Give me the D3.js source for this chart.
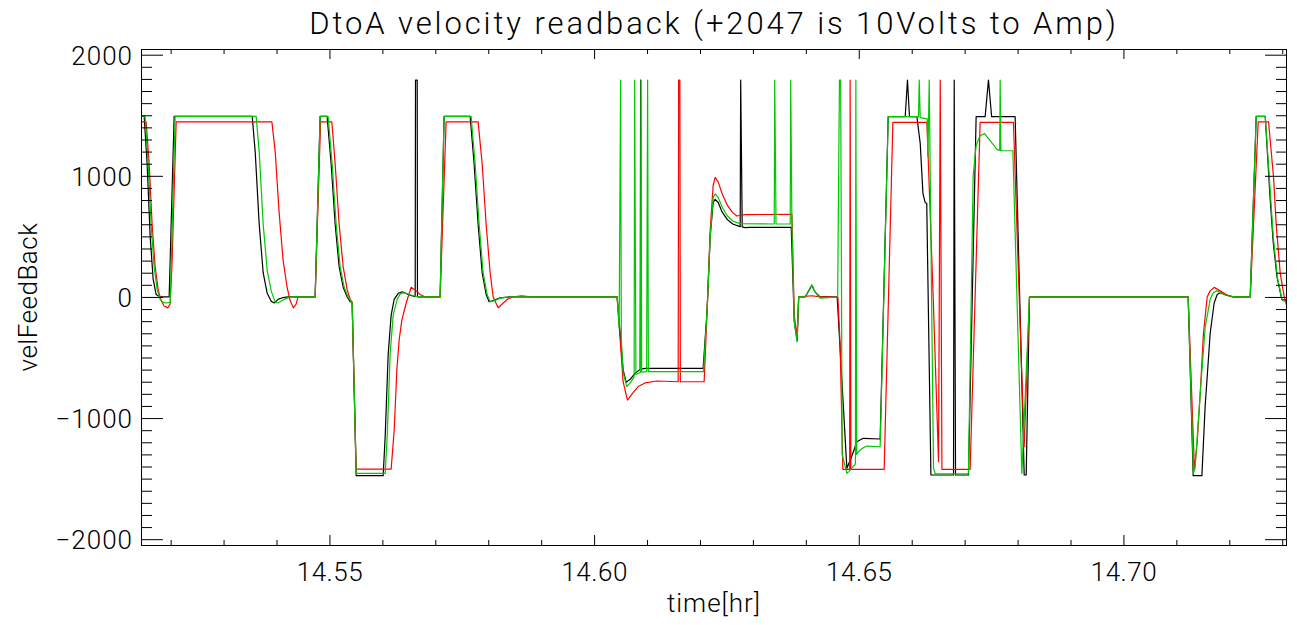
<!DOCTYPE html>
<html>
<head>
<meta charset="utf-8">
<script src="https://cdn.jsdelivr.net/npm/d3@7"></script>
<style>
  html, body { margin: 0; padding: 0; background: #fff; }
  svg { display: block; }
  text { font-family: "Roboto", "DejaVu Sans", sans-serif; font-weight: 300; fill: #000; }
</style>
</head>
<body>
<svg id="chart" width="1297" height="625"></svg>
<script>
// ---------------- data ----------------
const titleText = "DtoA velocity readback (+2047 is 10Volts to Amp)";
const xLabel = "time[hr]";
const yLabel = "velFeedBack";
const xDomain = [14.5144, 14.7309];
const yDomain = [-2048, 2047];
const xMajorTicks = [14.55, 14.60, 14.65, 14.70];
const xMinorTicks = [14.52, 14.53, 14.54, 14.56, 14.57, 14.58, 14.59, 14.61, 14.62, 14.63, 14.64, 14.66, 14.67, 14.68, 14.69, 14.71, 14.72, 14.73];
const yMajorTicks = [-2000, -1000, 0, 1000, 2000];
const yMinorTicks = d3.range(-2000, 2001, 100).filter(v => v % 1000 !== 0);

// [time (hr), velFeedBack]
const blackSeries = [
[14.5144,1490],[14.5150,1490],[14.51556,1100],[14.51613,500],[14.51669,150],[14.51726,20],[14.51802,0],[14.51972,0],[14.52066,1490],
[14.53541,1490],[14.53597,1200],[14.53673,600],[14.53748,200],[14.53824,30],[14.539,-35],[14.53956,-50],[14.5403,-20],[14.54125,-5],[14.54219,0],
[14.5473,0],[14.54824,1490],[14.54956,1490],[14.55032,1100],[14.55108,600],[14.55183,250],[14.55259,80],[14.55335,0],[14.55391,-40],[14.55429,-45],
[14.55505,-1476],[14.56015,-1476],[14.56053,-1150],[14.5611,-470],[14.56166,-150],[14.56223,-20],[14.56299,30],[14.56374,43],[14.56488,20],[14.56601,5],
[14.5662,3],[14.56626,1790],[14.56658,1790],[14.56663,0],[14.56714,0],
[14.57091,0],[14.57166,1490],[14.57658,1490],[14.57733,1100],[14.57809,600],[14.57885,200],[14.5796,20],[14.58017,-40],[14.58093,-30],[14.58225,-8],[14.58414,0],
[14.60435,0],[14.60492,-300],[14.60548,-600],[14.60605,-705],[14.60681,-680],[14.60775,-630],[14.6087,-598],[14.60879,1790],[14.60889,-596],[14.60964,-590],[14.6206,-590],
[14.62136,-100],[14.62193,500],[14.62249,780],[14.62287,806],[14.62344,780],[14.6242,700],[14.62514,640],[14.62627,600],[14.6276,580],[14.62769,1790],[14.62798,578],[14.62854,572],[14.62949,575],[14.63724,575],
[14.63781,-200],[14.63837,-360],[14.63865,0],[14.63987,0],[14.64113,95],[14.64176,40],[14.6427,0],[14.64592,0],
[14.64775,-1415],[14.64856,-1330],[14.64964,-1195],[14.65083,-1167],[14.65404,-1173],[14.65556,1488],[14.65877,1488],[14.6592,1790],[14.65958,1488],[14.66098,1488],
[14.66161,1268],[14.66212,855],[14.66255,778],[14.66284,773],[14.66363,-1470],[14.6679,-1470],[14.66803,1790],[14.66828,-1470],[14.67072,-1470],
[14.67217,1488],[14.67387,1488],[14.6745,1790],[14.6751,1488],[14.67954,1488],[14.68125,-1470],[14.68163,-1470],[14.68225,0],
[14.71223,0],[14.71318,-1476],[14.71482,-1476],[14.71544,-900],[14.71639,-300],[14.71714,-50],[14.71771,20],[14.71828,35],[14.71941,15],[14.72074,0],
[14.72395,0],[14.72508,1490],[14.72679,1490],[14.72773,800],[14.7283,450],[14.729,167],[14.72994,-25],[14.7309,-25]
];

const greenSeries = [
[14.5144,1490],[14.51518,1490],[14.51575,1100],[14.51631,600],[14.51688,250],[14.51745,60],[14.51802,-20],[14.51858,-45],[14.51915,-50],[14.51991,-45],[14.52085,1490],
[14.53616,1490],[14.53673,1200],[14.53748,600],[14.53824,220],[14.539,50],[14.53975,-45],[14.5403,-50],[14.54106,-30],[14.542,-10],[14.54295,0],
[14.5473,0],[14.54824,1490],[14.54975,1490],[14.55051,1100],[14.55127,600],[14.55202,250],[14.55278,80],[14.55353,0],[14.5541,-40],[14.55429,-45],
[14.55505,-1457],[14.56053,-1457],[14.56091,-1150],[14.56147,-470],[14.56204,-150],[14.5628,-20],[14.56336,25],[14.56412,35],[14.56525,18],[14.56639,5],[14.56752,0],
[14.57091,0],[14.57166,1490],[14.57677,1490],[14.57752,1100],[14.57828,600],[14.57903,200],[14.57979,20],[14.58036,-40],[14.58112,-30],[14.58244,-8],[14.58433,0],
[14.60435,0],[14.60473,-250],[14.60501,1790],[14.60514,-350],[14.60548,-620],[14.60618,-741],[14.60681,-710],[14.60756,-660],[14.60766,1790],[14.6079,-640],
[14.60875,-622],[14.60885,1790],[14.60898,-620],[14.60992,-617],[14.61011,1790],[14.61025,-617],[14.62066,-617],
[14.62136,-100],[14.62193,500],[14.62249,820],[14.62287,850],[14.62344,820],[14.6242,740],[14.62514,670],[14.62627,625],[14.6276,605],
[14.63403,602],[14.63412,1790],[14.63437,602],[14.63705,602],[14.63714,1790],[14.63737,602],[14.63781,-200],[14.63832,-370],[14.63865,0],[14.63987,0],
[14.64113,100],[14.64176,40],[14.6427,-10],[14.64421,-5],[14.64592,0],
[14.64601,0],[14.64635,1790],[14.64658,1790],[14.64686,-1300],[14.64775,-1457],[14.64818,-1440],[14.64894,-1400],[14.64937,-1380],[14.64945,1790],[14.6496,-1300],
[14.64994,-1278],[14.65064,-1250],[14.65153,-1231],[14.65404,-1237],[14.65556,1488],[14.66129,1488],[14.66142,1790],[14.66161,1480],[14.66293,1470],
[14.66306,1157],[14.66331,1790],[14.6635,1000],[14.66412,-1413],[14.66444,-1460],[14.67072,-1460],
[14.67161,1000],[14.67217,1250],[14.67293,1330],[14.67374,1350],[14.67482,1290],[14.67609,1218],[14.67662,1210],[14.67671,1790],[14.67684,1208],[14.67911,1207],
[14.68081,-1457],[14.68225,0],
[14.71223,0],[14.71323,-1457],[14.71355,-1400],[14.7145,-800],[14.71544,-250],[14.71639,-20],[14.71696,35],[14.71765,50],[14.71866,30],[14.71979,10],[14.72112,0],
[14.72395,0],[14.72508,1490],[14.72679,1490],[14.72754,1000],[14.7283,500],[14.72905,170],[14.72994,-20],[14.7309,-53]
];

const redSeries = [
[14.5144,1445],[14.51537,1445],[14.51594,1100],[14.5165,600],[14.51707,250],[14.51764,60],[14.5182,-30],[14.51877,-75],[14.51947,-90],[14.51991,-60],[14.52028,300],[14.52104,1445],
[14.53913,1445],[14.53975,1200],[14.54049,700],[14.54125,300],[14.542,80],[14.54257,-30],[14.54319,-90],[14.5437,-60],[14.54408,0],
[14.5473,0],[14.54833,1445],[14.55045,1445],[14.55108,1100],[14.55183,600],[14.55259,250],[14.55335,60],[14.55391,-20],[14.55429,-45],
[14.55505,-1421],[14.56166,-1421],[14.56223,-1100],[14.56274,-600],[14.56318,-350],[14.56369,-190],[14.5645,-50],[14.56544,80],[14.56639,50],[14.56714,20],[14.56809,0],
[14.57091,0],[14.57204,1445],[14.57809,1445],[14.57885,1100],[14.5796,600],[14.58036,200],[14.58093,0],[14.58187,-89],[14.58282,-50],[14.58376,-15],[14.58471,0],[14.58635,10],[14.58792,0],
[14.60435,0],[14.60492,-350],[14.60548,-700],[14.6063,-851],[14.60718,-800],[14.60832,-740],[14.60964,-710],[14.61185,-694],[14.61588,-700],[14.61597,1790],[14.6162,1790],[14.61629,-700],[14.62079,-700],
[14.62136,-100],[14.62193,550],[14.62249,920],[14.62287,987],[14.62344,950],[14.6242,850],[14.62514,760],[14.62609,700],[14.62697,668],[14.62854,680],[14.63737,682],
[14.63781,-150],[14.63832,-330],[14.63865,0],[14.64113,10],[14.6427,0],[14.64605,0],
[14.64648,-400],[14.64699,-1423],[14.64828,-1423],[14.64837,1790],[14.64851,-1423],[14.6548,-1423],[14.65644,1442],[14.66287,1442],[14.66406,0],[14.66507,-1360],
[14.66539,1790],[14.66571,-1423],[14.67104,-1423],[14.67293,1442],[14.67922,1442],[14.68125,-1237],[14.68225,0],
[14.71223,0],[14.71342,-1430],[14.71393,-1200],[14.7145,-800],[14.71512,-300],[14.71582,0],[14.71639,50],[14.71714,79],[14.71828,50],[14.71941,20],[14.72055,0],
[14.72395,0],[14.72546,1445],[14.72741,1445],[14.72835,992],[14.72886,600],[14.72962,195],[14.73038,0],[14.7309,-80]
];

const seriesList = [
  { name: "black", color: "#000000", data: blackSeries },
  { name: "red",   color: "#ff0000", data: redSeries },
  { name: "green", color: "#00c800", data: greenSeries }
];

// ---------------- layout ----------------
const W = 1297, H = 625;
const plot = { left: 141, right: 1287, top: 49, bottom: 545 };

const svg = d3.select("#chart");
const x = d3.scaleLinear().domain(xDomain).range([plot.left, plot.right]);
const y = d3.scaleLinear().domain(yDomain).range([plot.bottom, plot.top]);

svg.append("rect").attr("width", W).attr("height", H).attr("fill", "#fff");

svg.append("defs").append("clipPath").attr("id", "clip")
  .append("rect").attr("x", plot.left).attr("y", plot.top)
  .attr("width", plot.right - plot.left).attr("height", plot.bottom - plot.top);

const line = d3.line().x(d => x(d[0])).y(d => y(d[1]));
const gLines = svg.append("g").attr("clip-path", "url(#clip)");
seriesList.forEach(s => {
  gLines.append("path")
    .datum(s.data)
    .attr("d", line)
    .attr("fill", "none")
    .attr("stroke", s.color)
    .attr("stroke-width", 1.2)
    .attr("stroke-linejoin", "round");
});

function styleAxis(g) {
  g.select(".domain").remove();
  g.selectAll(".tick line").attr("stroke", "#000").attr("stroke-width", 1);
  g.selectAll("text").attr("font-family", "Roboto, DejaVu Sans, sans-serif").attr("font-weight", 300).attr("fill", "#000");
}

svg.append("g").attr("transform", `translate(0,${plot.bottom})`)
  .call(d3.axisBottom(x).tickValues(xMajorTicks).tickSizeInner(-10).tickSizeOuter(0).tickPadding(18).tickFormat(d3.format(".2f")))
  .call(styleAxis)
  .call(g => g.selectAll("text").attr("font-size", 26).attr("letter-spacing", "0.5px"));
svg.append("g").attr("transform", `translate(0,${plot.bottom})`)
  .call(d3.axisBottom(x).tickValues(xMinorTicks).tickSizeInner(-5).tickSizeOuter(0).tickFormat(""))
  .call(styleAxis);
svg.append("g").attr("transform", `translate(0,${plot.top})`)
  .call(d3.axisTop(x).tickValues(xMajorTicks).tickSizeInner(-10).tickSizeOuter(0).tickFormat(""))
  .call(styleAxis);
svg.append("g").attr("transform", `translate(0,${plot.top})`)
  .call(d3.axisTop(x).tickValues(xMinorTicks).tickSizeInner(-5).tickSizeOuter(0).tickFormat(""))
  .call(styleAxis);
svg.append("g").attr("transform", `translate(${plot.left},0)`)
  .call(d3.axisLeft(y).tickValues(yMajorTicks).tickSizeInner(-22).tickSizeOuter(0).tickPadding(8).tickFormat(d3.format("d")))
  .call(styleAxis)
  .call(g => g.selectAll("text").attr("font-size", 26).attr("letter-spacing", "1px").attr("dy", "0.36em"));
svg.append("g").attr("transform", `translate(${plot.left},0)`)
  .call(d3.axisLeft(y).tickValues(yMinorTicks).tickSizeInner(-11).tickSizeOuter(0).tickFormat(""))
  .call(styleAxis);
svg.append("g").attr("transform", `translate(${plot.right},0)`)
  .call(d3.axisRight(y).tickValues(yMajorTicks).tickSizeInner(-22).tickSizeOuter(0).tickFormat(""))
  .call(styleAxis);
svg.append("g").attr("transform", `translate(${plot.right},0)`)
  .call(d3.axisRight(y).tickValues(yMinorTicks).tickSizeInner(-11).tickSizeOuter(0).tickFormat(""))
  .call(styleAxis);

svg.append("rect")
  .attr("x", plot.left + 0.5).attr("y", plot.top + 0.5)
  .attr("width", plot.right - plot.left - 1).attr("height", plot.bottom - plot.top)
  .attr("fill", "none").attr("stroke", "#000").attr("stroke-width", 1);

svg.append("text")
  .attr("x", (plot.left + plot.right) / 2).attr("y", 34)
  .attr("text-anchor", "middle").attr("font-size", 31).attr("letter-spacing", "2.9px")
  .text(titleText);
svg.append("text")
  .attr("x", (plot.left + plot.right) / 2).attr("y", 612)
  .attr("text-anchor", "middle").attr("font-size", 26).attr("letter-spacing", "1px")
  .text(xLabel);
svg.append("text")
  .attr("transform", `translate(37,${(plot.top + plot.bottom) / 2}) rotate(-90)`)
  .attr("text-anchor", "middle").attr("font-size", 26).attr("letter-spacing", "0.5px")
  .text(yLabel);
</script>
</body>
</html>
